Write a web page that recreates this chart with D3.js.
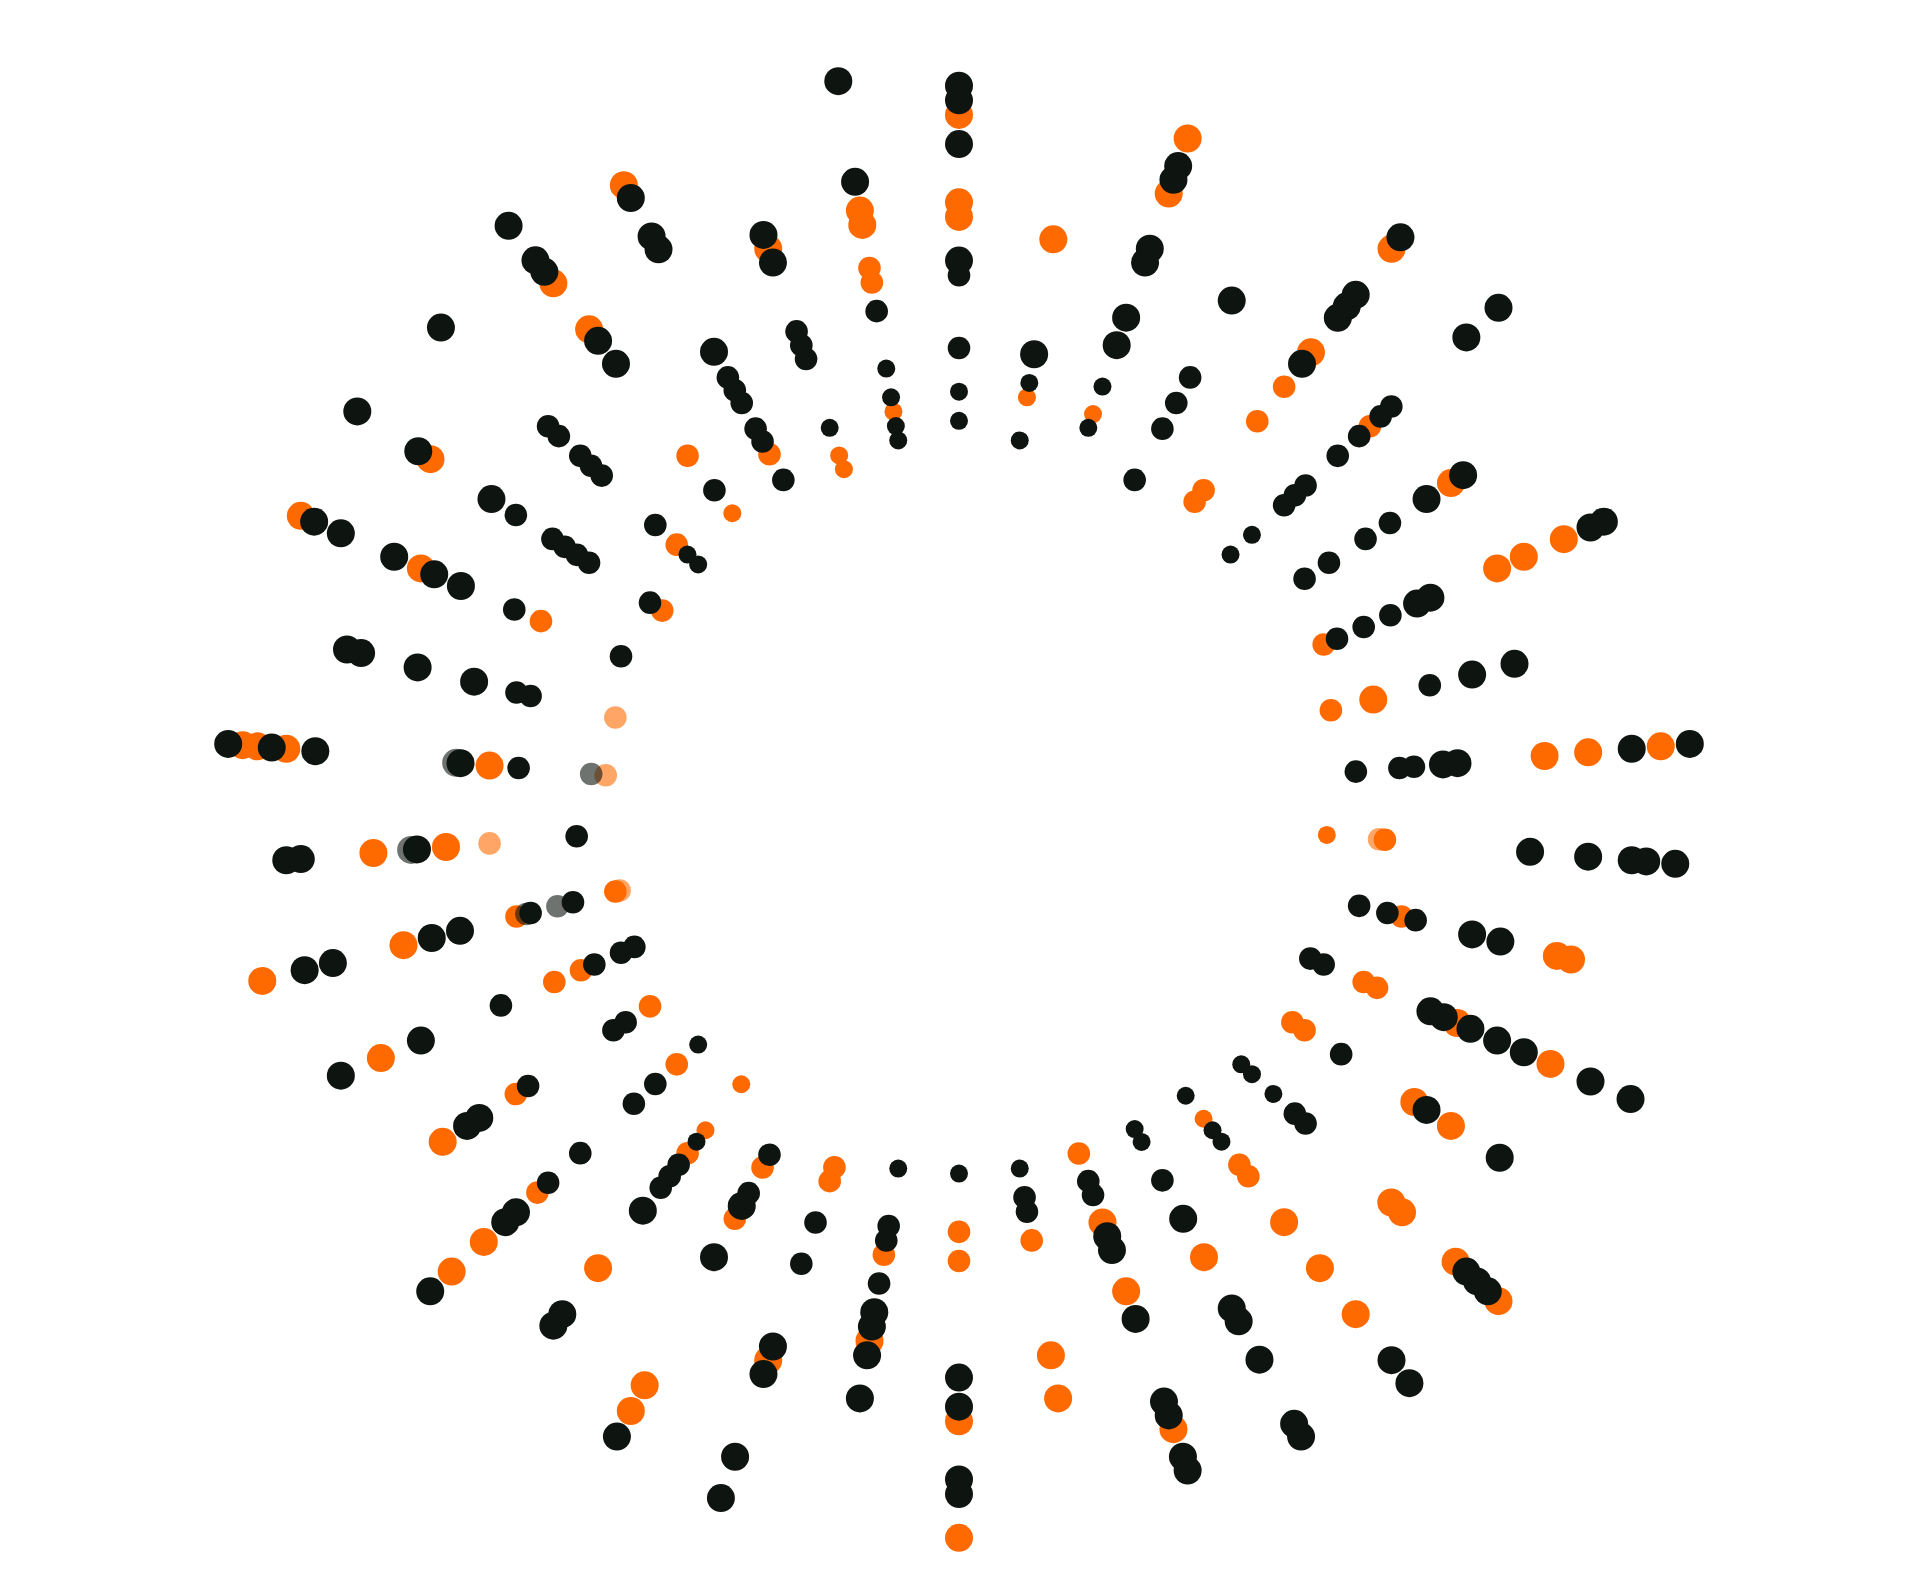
<!DOCTYPE html>
<html>
<head>
<meta charset="utf-8">
<script src="https://cdn.jsdelivr.net/npm/d3@7"></script>
<style>
  html, body { margin: 0; padding: 0; background: #fff; }
</style>
</head>
<body>
<script>
var width = 1920;
var height = 1589;

// 38 spokes, clockwise from the top
var categories = d3.range(38).map(function(i) { return "S" + (i + 1); });

// each dot is [level, weight]; level 0 = innermost ring, 26 = outermost,
// weight is 1 (small), 2 (medium) or 3 (large)
var blackDots = [
  [[25,3],[24,3],[21,3],[13,3],[12,2],[7,2],[4,1],[2,1]],
  [[7,3],[5,1],[1,1]],
  [[22,3],[21,3],[16,3],[15,3],[11,3],[9,3],[6,1],[3,1]],
  [[15,3],[9,2],[7,2],[5,2],[1,2]],
  [[14,3],[18,3],[19,3],[20,3],[25,3]],
  [[1,1],[3,1],[6,2],[7,2],[8,2],[11,2],[13,2],[15,2],[16,2],[23,3],[26,3]],
  [[4,2],[6,2],[9,2],[11,2],[14,3],[17,3]],
  [[4,2],[6,2],[8,2],[10,3],[11,3],[23,3],[24,3]],
  [[9,2],[12,3],[15,3]],
  [[3,2],[6,2],[7,2],[9,3],[10,3],[22,3],[26,3]],
  [[15,3],[19,3],[22,3],[23,3],[25,3]],
  [[4,2],[6,2],[8,2],[12,3],[14,3]],
  [[2,2],[3,2],[11,3],[12,3],[14,3],[16,3],[18,3],[23,3],[26,3]],
  [[7,2],[14,3],[20,3]],
  [[2,1],[3,1],[5,1],[7,2],[8,2],[23,3],[24,3],[25,3]],
  [[1,1],[4,1],[5,1],[24,3],[26,3]],
  [[1,1],[2,1],[5,2],[8,3],[15,3],[16,3],[19,3],[24,3],[25,3]],
  [[3,2],[4,2],[7,3],[8,3],[13,3],[19,3],[20,3],[23,3],[24,3]],
  [[1,1],[3,2],[4,2]],
  [[1,1],[15,3],[17,3],[22,3],[23,3]],
  [[1,1],[5,2],[6,2],[9,2],[11,3],[12,3],[14,3],[17,3]],
  [[6,2],[9,2],[15,3],[17,3],[23,3],[26,3]],
  [[3,2],[6,2],[7,3],[11,3],[25,3]],
  [[5,1],[7,2],[8,2],[9,2],[11,3],[20,3],[21,3]],
  [[0,1],[4,2],[6,2],[11,2],[14,2],[17,3],[18,3],[25,3]],
  [[3,2],[4,2],[11,2],[15,3],[16,3]],
  [[0,2],[1,2],[3,2],[10,2],[16,3],[22,3]],
  [[3,2],[6,2],[11,3],[13,3],[20,3],[22,3]],
  [[2,2],[13,3],[21,3],[22,3]],
  [[6,2],[10,3],[20,3],[23,3],[26,3]],
  [[6,2],[7,2],[10,3],[14,3],[18,3],[19,3]],
  [[1,2],[9,2],[13,3],[15,3],[18,3],[22,3],[24,3]],
  [[1,2],[6,2],[7,2],[8,2],[9,2],[12,2],[14,3],[20,3],[25,3]],
  [[0,1],[1,1],[4,2],[9,2],[10,2],[11,2],[13,2],[14,2],[24,3]],
  [[3,2],[14,3],[16,3],[22,3],[23,3],[26,3]],
  [[1,2],[4,2],[5,2],[7,2],[8,2],[9,2],[11,3],[19,3],[20,3],[23,3]],
  [[3,1],[8,2],[9,2],[10,2],[15,3],[17,3]],
  [[1,1],[2,1],[4,1],[6,1],[10,2],[19,3],[26,3]]
];

var orangeDots = [
  [[23,3],[17,3],[16,3]],
  [[15,3],[4,1]],
  [[24,3],[20,3],[4,1]],
  [],
  [[2,2],[3,2],[9,2],[12,2],[15,3],[24,3]],
  [[14,2]],
  [[16,3]],
  [[3,2],[16,3],[18,3],[21,3]],
  [[2,2],[5,3]],
  [[16,3],[19,3],[24,3]],
  [[1,1],[5,2]],
  [[7,2],[18,3],[19,3]],
  [[6,2],[7,2],[13,3],[20,3]],
  [[3,2],[4,2],[13,3],[16,3]],
  [[16,3],[17,3],[22,3],[26,3]],
  [[3,1],[7,2],[8,2],[12,3],[16,3],[20,3]],
  [[11,3]],
  [[1,2],[6,3],[11,3],[21,3]],
  [[6,2],[14,3],[17,3]],
  [[5,2],[7,2],[18,3],[26,3]],
  [[7,2],[13,3]],
  [[2,2],[3,2],[16,3]],
  [[4,2],[8,2],[21,3],[23,3]],
  [[0,1],[4,1],[6,2],[16,3]],
  [[2,2],[15,2],[20,3],[23,3]],
  [[1,2],[12,2],[18,3]],
  [[4,2],[6,2],[19,3]],
  [[0,2],[7,2],[15,3],[25,3]],
  [[11,3],[16,3]],
  [[8,3],[22,3],[24,3],[25,3]],
  [],
  [[7,2],[16,3],[25,3]],
  [[0,2],[19,3]],
  [[2,2]],
  [[1,1],[6,2],[17,3],[21,3]],
  [[3,2],[24,3]],
  [[0,1],[1,1],[16,3]],
  [[3,1],[12,2],[13,2],[16,3],[17,3]]
];

// half-faded dots: [spoke index, level, weight]
var fadedBlack = [[27,4.1,2],[27,6.3,2],[28,13.4,3],[29,1,2],[29,10.3,3]];
var fadedOrange = [[10,4.6,2],[27,-0.3,2],[28,8,2],[29,0,2],[30,0,2]];

var svg = d3.select("body")
    .append("svg")
    .attr("width", width)
    .attr("height", height);

svg.append("rect")
    .attr("width", width)
    .attr("height", height)
    .attr("fill", "#fff");

var g = svg.append("g")
    .attr("transform", "translate(959,804.5)");

var angle = d3.scaleBand()
    .domain(categories)
    .range([0, 2 * Math.PI])
    .paddingInner(0)
    .align(0);

var radius = d3.scaleLinear()
    .domain([0, 26])
    .range([354.5, 733.3]);

var size = d3.scaleOrdinal()
    .domain([1, 2, 3])
    .range([9, 11.3, 14]);

var color = { black: "#0e1511", orange: "#ff6a00" };

function toPoints(lists, kind) {
  var out = [];
  lists.forEach(function(dots, i) {
    dots.forEach(function(d) {
      out.push({ cat: categories[i], value: d[0], weight: d[1], kind: kind, faded: false });
    });
  });
  return out;
}

function fadedPoints(list, kind) {
  return list.map(function(d) {
    return { cat: categories[d[0]], value: d[1], weight: d[2], kind: kind, faded: true };
  });
}

var points = toPoints(orangeDots, "orange")
  .concat(toPoints(blackDots, "black"))
  .concat(fadedPoints(fadedOrange, "orange"))
  .concat(fadedPoints(fadedBlack, "black"));

g.selectAll("circle")
    .data(points)
    .enter()
    .append("circle")
    .attr("cx", function(d) { return radius(d.value) * Math.sin(angle(d.cat)); })
    .attr("cy", function(d) { return -radius(d.value) * Math.cos(angle(d.cat)); })
    .attr("r", function(d) { return size(d.weight); })
    .attr("fill", function(d) { return color[d.kind]; })
    .attr("fill-opacity", function(d) { return d.faded ? 0.6 : 1; });
</script>
</body>
</html>
